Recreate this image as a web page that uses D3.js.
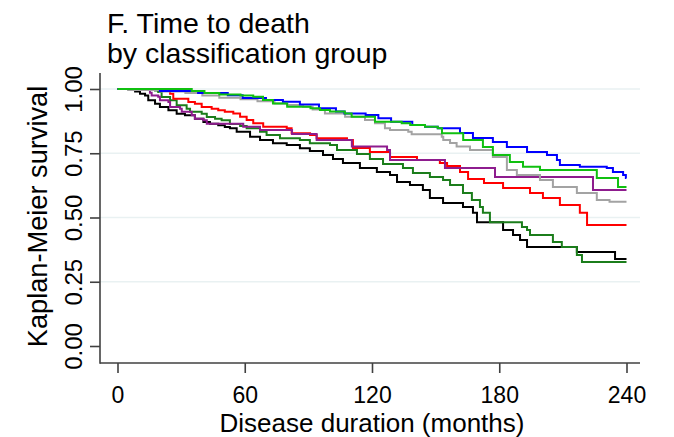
<!DOCTYPE html>
<html>
<head>
<meta charset="utf-8">
<script src="https://cdn.jsdelivr.net/npm/d3@7"></script>
<style>
  html, body { margin: 0; padding: 0; background: #fff; }
  svg { display: block; font-family: "Liberation Sans", Arial, Helvetica, sans-serif; }
</style>
</head>
<body>
<svg id="chart" width="674" height="437"></svg>
<script>
// ---- data ----
const titleLines = ["F. Time to death", "by classification group"];
const xLabel = "Disease duration (months)";
const yLabel = "Kaplan-Meier survival";
const timeTicks = [0, 60, 120, 180, 240];
const survTicks = [0, 0.25, 0.5, 0.75, 1];
const maxTime = 240;

// [time (months), Kaplan-Meier survival] at each step
const blueSteps = [[0,1],[20,.992],[38,.984],[52,.976],[59,.965],[70,.957],[78,.95],[86,.94],[95,.925],[103,.912],[107,.905],[117,.899],[123,.886],[129,.873],[139,.860],[145,.853],[151,.847],[161.5,.829],[167.6,.809],[177,.794],[183.6,.774],[193.1,.755],[202.5,.743],[207.2,.724],[208.6,.704],[218,.697],[230.7,.693],[233.6,.677],[238.4,.665],[239.7,.654]];
const limeSteps = [[0,1],[35,.992],[41,.984],[48,.979],[58,.975],[64,.970],[68.6,.957],[73.3,.944],[80,.931],[91,.925],[95.5,.918],[100.2,.912],[107.2,.905],[110.4,.892],[121.4,.873],[134,.867],[138,.860],[145,.853],[151,.847],[153,.828],[163,.802],[172.3,.774],[177,.743],[185,.716],[191.2,.697],[199.2,.685],[226,.654],[236,.619]];
const graySteps = [[0,1],[5,.996],[20,.99],[32,.984],[40,.975],[48,.966],[58,.96],[66,.952],[74,.944],[80,.938],[87.5,.931],[92,.92],[97.8,.905],[107.3,.892],[116.7,.879],[121.4,.867],[126.1,.847],[128.5,.840],[137.1,.834],[138.7,.824],[152.9,.814],[153.6,.802],[156.8,.790],[159.9,.776],[166.2,.763],[177,.735],[183.6,.685],[188.3,.665],[199.2,.646],[205.3,.619],[216.6,.595],[226,.568],[232,.561]];
const purpleSteps = [[0,1],[15.3,.985],[16.1,.975],[19.2,.970],[20,.956],[24,.949],[24.8,.930],[29.5,.923],[30.3,.911],[35,.898],[36.5,.884],[40.5,.878],[42.1,.865],[59.3,.853],[67.2,.840],[82.3,.825],[93.9,.802],[110.5,.776],[127.1,.763],[128.5,.724],[154.4,.693],[178,.658],[224.2,.607]];
const redSteps = [[0,1],[24.8,.982],[26.3,.962],[33.4,.949],[36.5,.943],[39.7,.930],[44.4,.923],[47.5,.917],[50.6,.911],[54.6,.905],[57.8,.892],[60.9,.879],[64,.867],[68.7,.853],[79.8,.847],[82.1,.828],[90.8,.821],[93.9,.808],[108.2,.802],[111,.770],[119,.755],[128.5,.735],[141.2,.724],[152,.712],[155.4,.700],[161.5,.677],[165.3,.650],[172.8,.634],[181.8,.615],[194.5,.595],[200.6,.576],[208.6,.549],[218,.518],[221.4,.471]];
const darkGreenSteps = [[0,1],[17.7,.994],[19.2,.988],[20.8,.969],[24.8,.956],[27.9,.937],[32.6,.923],[34.2,.911],[39.7,.904],[42.1,.891],[46,.884],[49.1,.878],[53,.864],[57.8,.856],[60.9,.847],[67.2,.834],[70.3,.821],[76.6,.808],[86,.802],[90.7,.789],[100.2,.782],[103.5,.763],[112.9,.747],[119,.728],[125.2,.708],[134.6,.693],[139.3,.673],[147.3,.658],[153.5,.646],[156.8,.626],[162.9,.595],[167.1,.568],[170.9,.541],[172.3,.518],[175.6,.482],[190.7,.463],[193.1,.451],[194.5,.432],[205.3,.405],[209.5,.385],[216.6,.354],[219,.327]];
const blackSteps = [[0,1],[8.3,.99],[10.6,.982],[13,.975],[14.5,.956],[17.7,.943],[20,.930],[24,.917],[27.9,.904],[31.8,.898],[36.5,.884],[40.5,.872],[43.6,.865],[47.5,.859],[50.6,.852],[53,.847],[56.2,.834],[62.5,.814],[67.2,.802],[73.3,.789],[79.8,.782],[86,.769],[90.7,.759],[96.9,.743],[101.6,.728],[106.3,.712],[114.3,.693],[122.3,.677],[128.5,.665],[131.8,.638],[137.9,.626],[144,.607],[147.3,.576],[153.5,.556],[162.9,.541],[167.6,.518],[169.5,.482],[181.8,.451],[186.5,.432],[189.8,.412],[193.1,.385],[216.6,.366],[234.6,.339]];

const seriesList = [
  { name: "black", color: "#000000", steps: blackSteps },
  { name: "darkgreen", color: "#1b7d1b", steps: darkGreenSteps },
  { name: "red", color: "#ff0000", steps: redSteps },
  { name: "purple", color: "#8e1c8e", steps: purpleSteps },
  { name: "gray", color: "#a3a3a3", steps: graySteps },
  { name: "blue", color: "#0000ff", steps: blueSteps },
  { name: "lime", color: "#10c010", steps: limeSteps }
];

// ---- layout ----
const svg = d3.select("#chart");
const axisX0 = 100, plotRight = 640, axisY0 = 363, plotTop = 73;
const x = d3.scaleLinear().domain([0, maxTime]).range([117.5, 626.5]);
const y = d3.scaleLinear().domain([0, 1]).range([346, 89]);
const axisColor = "#404040";

// gridlines
svg.append("g").selectAll("line")
  .data(survTicks.filter(d => d > 0))
  .join("line")
  .attr("x1", axisX0).attr("x2", plotRight)
  .attr("y1", d => y(d)).attr("y2", d => y(d))
  .attr("stroke", "#e9f1f2").attr("stroke-width", 1.6);

// curves
const line = d3.line()
  .x(d => x(d[0])).y(d => y(d[1]))
  .curve(d3.curveStepAfter);

svg.append("g").selectAll("path")
  .data(seriesList)
  .join("path")
  .attr("d", s => line(s.steps.concat([[maxTime, s.steps[s.steps.length - 1][1]]])))
  .attr("fill", "none")
  .attr("stroke", s => s.color)
  .attr("stroke-width", 2)
  .attr("stroke-linejoin", "miter");

// y axis
const yAxis = d3.axisLeft(y).tickValues(survTicks).tickSize(10).tickFormat(d3.format(".2f"));
const gy = svg.append("g").attr("transform", `translate(${axisX0},0)`).call(yAxis);
gy.select(".domain").remove();
gy.selectAll(".tick line").attr("stroke", axisColor).attr("stroke-width", 1.6);
gy.selectAll(".tick text")
  .attr("transform", "rotate(-90)")
  .attr("x", 0).attr("y", -18).attr("dy", 0)
  .attr("text-anchor", "middle")
  .attr("fill", "#000")
  .style("font-size", "24px")
  .style("font-family", "'Liberation Sans', Arial, sans-serif");

// x axis
const xAxis = d3.axisBottom(x).tickValues(timeTicks).tickSize(10).tickFormat(d3.format("d"));
const gx = svg.append("g").attr("transform", `translate(0,${axisY0})`).call(xAxis);
gx.select(".domain").remove();
gx.selectAll(".tick line").attr("stroke", axisColor).attr("stroke-width", 1.6);
gx.selectAll(".tick text")
  .attr("y", 40).attr("dy", 0)
  .attr("fill", "#000")
  .style("font-size", "23px")
  .style("font-family", "'Liberation Sans', Arial, sans-serif");

// axis lines
svg.append("line").attr("x1", axisX0).attr("x2", axisX0).attr("y1", plotTop).attr("y2", axisY0 + 0.8)
  .attr("stroke", axisColor).attr("stroke-width", 1.6);
svg.append("line").attr("x1", axisX0).attr("x2", plotRight).attr("y1", axisY0).attr("y2", axisY0)
  .attr("stroke", axisColor).attr("stroke-width", 1.6);

// axis titles
svg.append("text")
  .attr("transform", `translate(47,${(y(0) + y(1)) / 2 - 1}) rotate(-90)`)
  .attr("text-anchor", "middle")
  .style("font-size", "27.2px")
  .text(yLabel);
svg.append("text")
  .attr("x", (x(0) + x(maxTime)) / 2).attr("y", 431.5)
  .attr("text-anchor", "middle")
  .style("font-size", "26px")
  .text(xLabel);

// title
svg.append("g").selectAll("text")
  .data(titleLines)
  .join("text")
  .attr("x", 107).attr("y", (d, i) => 33 + i * 30)
  .style("font-size", "28.5px")
  .text(d => d);
</script>
</body>
</html>
